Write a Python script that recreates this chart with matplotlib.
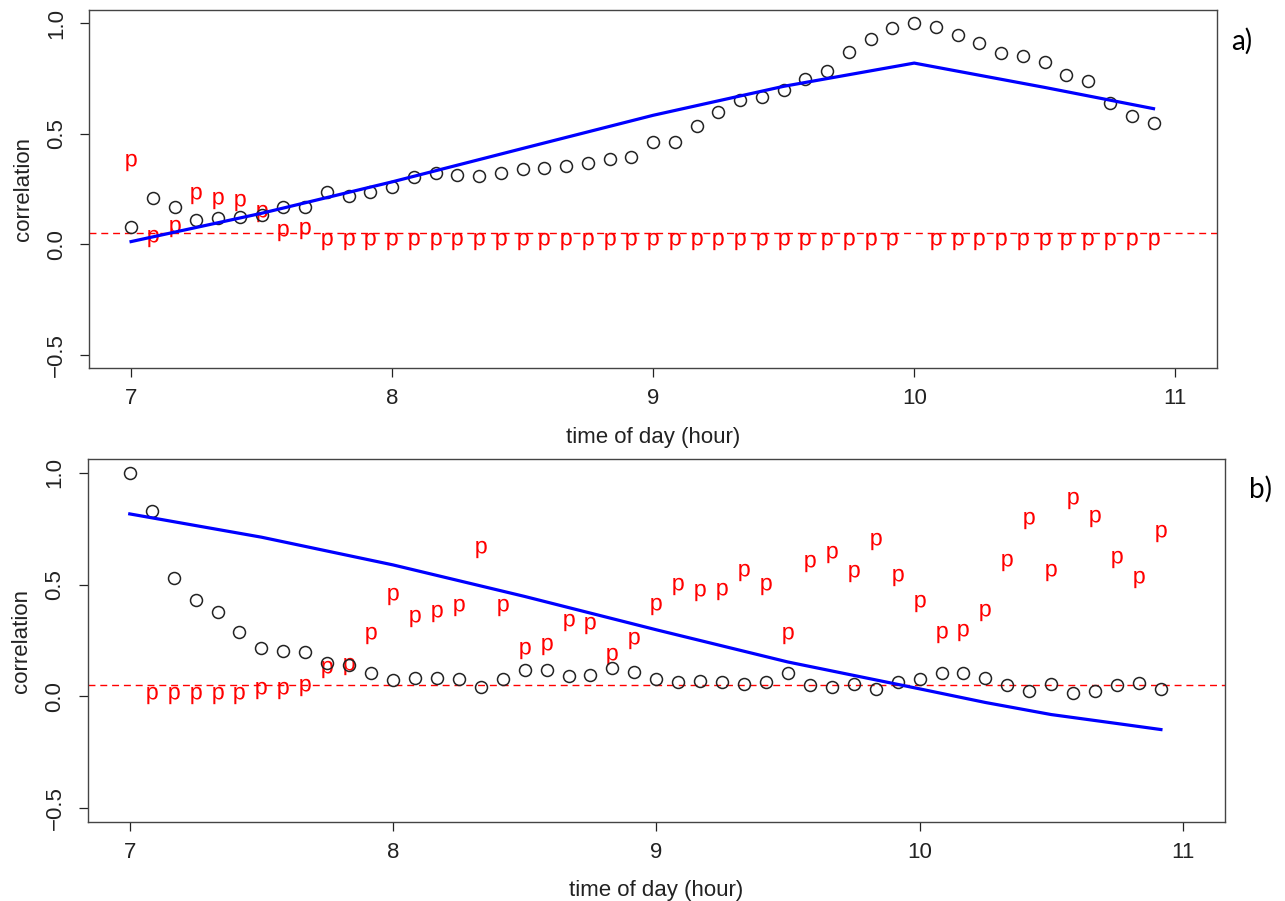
import numpy as np
import matplotlib
matplotlib.use("Agg")
import matplotlib.pyplot as plt

plt.rcParams["font.family"] = ["Liberation Sans", "DejaVu Sans"]
plt.rcParams["mathtext.fontset"] = "custom"
plt.rcParams["mathtext.rm"] = "Liberation Sans"

# 5-minute grid, 7:00 .. 10:55
hours = 7 + np.arange(48) * 5 / 60

# panel a) correlation with the 10:00 reference
corr_a = [0.080, 0.208, 0.170, 0.110, 0.118, 0.123, 0.133, 0.170, 0.170, 0.238,
          0.219, 0.237, 0.261, 0.303, 0.321, 0.315, 0.310, 0.321, 0.339, 0.346,
          0.354, 0.369, 0.387, 0.395, 0.465, 0.465, 0.537, 0.597, 0.651, 0.668,
          0.700, 0.748, 0.785, 0.868, 0.928, 0.977, 1.000, 0.985, 0.948, 0.910,
          0.867, 0.850, 0.826, 0.766, 0.738, 0.639, 0.581, 0.549]
pval_a = [0.373, 0.028, 0.073, 0.223, 0.201, 0.190, 0.141, 0.058, 0.065] + \
         [0.015] * 27 + [np.nan] + [0.015] * 11
fit_hours_a = [7.0, 7.5, 8.0, 8.5, 9.0, 9.5, 10.0, 10.5, 10.9167]
fit_a = [0.013, 0.141, 0.283, 0.434, 0.584, 0.715, 0.820, 0.710, 0.614]

# panel b) correlation with the 7:00 reference
corr_b = [1.000, 0.829, 0.529, 0.432, 0.377, 0.288, 0.217, 0.205, 0.199, 0.150,
          0.142, 0.103, 0.074, 0.084, 0.084, 0.079, 0.041, 0.079, 0.116, 0.116,
          0.090, 0.096, 0.126, 0.110, 0.079, 0.066, 0.070, 0.066, 0.054, 0.066,
          0.103, 0.049, 0.041, 0.054, 0.035, 0.065, 0.079, 0.103, 0.103, 0.084,
          0.049, 0.026, 0.054, 0.014, 0.026, 0.049, 0.061, 0.032]
pval_b = [np.nan, 0.008, 0.008, 0.008, 0.008, 0.008, 0.028, 0.031, 0.041, 0.123,
          0.135, 0.273, 0.451, 0.351, 0.373, 0.402, 0.658, 0.402, 0.209, 0.224,
          0.335, 0.318, 0.182, 0.254, 0.405, 0.492, 0.469, 0.472, 0.558, 0.495,
          0.276, 0.596, 0.636, 0.554, 0.697, 0.532, 0.417, 0.279, 0.286, 0.376,
          0.600, 0.789, 0.556, 0.878, 0.797, 0.614, 0.525, 0.730]
fit_hours_b = [7.0, 7.5, 8.0, 8.5, 9.0, 9.5, 10.0, 10.25, 10.5, 10.75, 10.9167]
fit_b = [0.816, 0.712, 0.588, 0.447, 0.298, 0.154, 0.034, -0.027, -0.081, -0.121, -0.148]

sig_level = 0.05

fig = plt.figure(figsize=(12.85, 9.01), dpi=100)
ax1 = fig.add_axes([0.0695, 0.5912, 0.8776, 0.3977])
ax2 = fig.add_axes([0.0682, 0.0880, 0.8851, 0.4022])

panels = [(ax1, corr_a, pval_a, fit_hours_a, fit_a, "a)", (0.966, 0.954)),
          (ax2, corr_b, pval_b, fit_hours_b, fit_b, "b)", (0.981, 0.457))]

for ax, corr, pval, fh, fit, tag, tagpos in panels:
    ax.axhline(sig_level, color="red", lw=1.0, dashes=(5, 3.5), zorder=1)
    ax.plot(hours, pval, ls="none", marker=r"$\mathrm{p}$", ms=12.5,
            color="red", mec="red", mew=0, zorder=2)
    ax.plot(hours, corr, ls="none", marker="o", ms=8.6, mfc="none",
            mec="#222222", mew=1.1, zorder=3)
    ax.plot(fh, fit, color="#0000ff", lw=2.3, zorder=4)

    ax.set_xlim(6.84, 11.16)
    ax.set_ylim(-0.56, 1.06)
    ax.set_xticks([7, 8, 9, 10, 11])
    ax.set_yticks([-0.5, 0.0, 0.5, 1.0])
    ax.set_yticklabels(["\u22120.5", "0.0", "0.5", "1.0"], rotation=90, va="center")
    ax.tick_params(direction="out", length=6.5, width=0.9, color="#222222",
                   labelsize=16, labelcolor="#222222")
    ax.tick_params(axis="x", pad=8)
    ax.tick_params(axis="y", pad=9.5)
    for s in ax.spines.values():
        s.set_color("#444444")
        s.set_linewidth(1.0)
    ax.set_xlabel("time of day (hour)", fontsize=16, color="#222222", labelpad=12.5)
    ax.set_ylabel("correlation", fontsize=16, color="#222222", labelpad=9)
    fig.text(tagpos[0], tagpos[1], tag, fontsize=20, family=["Lato", "DejaVu Sans"],
             ha="center", va="center")

fig.savefig("out.png", dpi=100)
